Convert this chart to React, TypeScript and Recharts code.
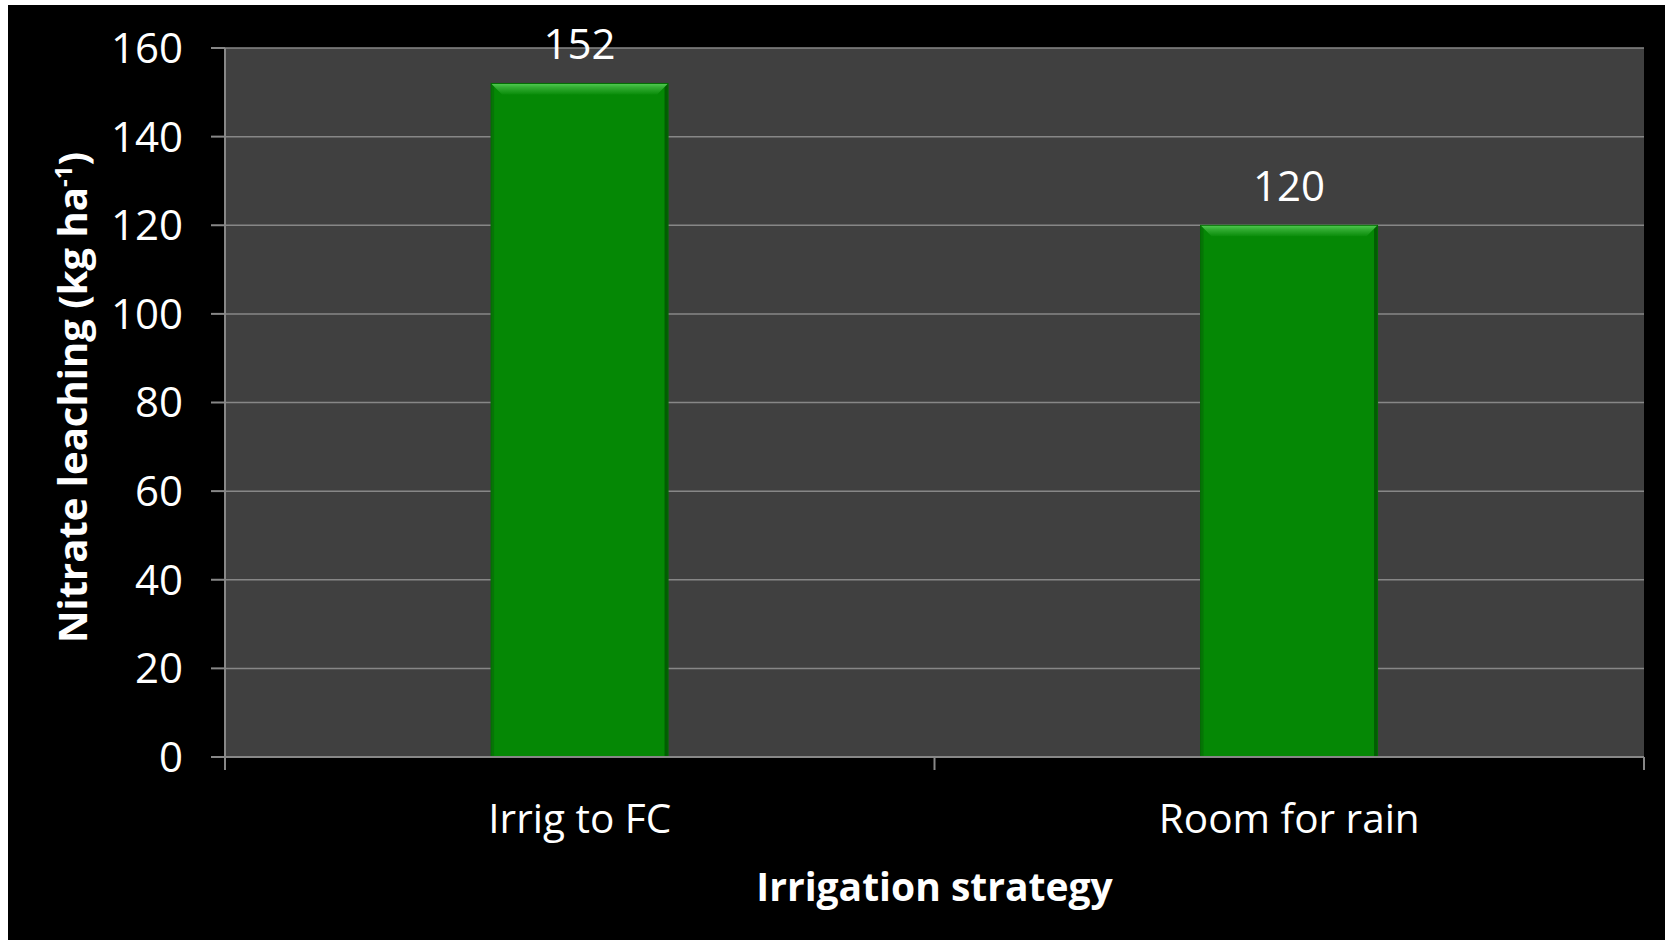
import React from 'react';
import { BarChart, Bar, XAxis, YAxis, CartesianGrid, LabelList, Label } from 'recharts';

// Nitrate leaching under two irrigation strategies
const strategies = ['Irrig to FC', 'Room for rain'];
const nitrateLeaching = [152, 120];
const yTicks = [0, 20, 40, 60, 80, 100, 120, 140, 160];

const data = strategies.map((strategy, i) => ({ strategy, leaching: nitrateLeaching[i] }));

const FONT = '"Open Sans", "DejaVu Sans", sans-serif';
const AXIS_GREY = '#878787';
const CHART_W = 1657;
const CHART_H = 935;

// Green bar with a light bevel along the top and darker edges
function BevelBar(props: any) {
  const { x, y, width, height, index } = props;
  if (!height || height <= 0) return null;
  const b = Math.min(11, height / 2);
  const gid = `bevel-top-${index}`;
  return (
    <g>
      <defs>
        <linearGradient id={gid} x1="0" y1="0" x2="0" y2="1">
          <stop offset="0%" stopColor="#52cc52" />
          <stop offset="35%" stopColor="#34ae34" />
          <stop offset="100%" stopColor="#0a8d0a" />
        </linearGradient>
      </defs>
      <rect x={x} y={y} width={width} height={height} fill="#058805" />
      <rect x={x} y={y} width={3} height={height} fill="#067506" />
      <rect x={x + width - 3.5} y={y} width={3.5} height={height} fill="#025d02" />
      <polygon
        points={`${x},${y} ${x + width},${y} ${x + width - b},${y + b} ${x + b},${y + b}`}
        fill={`url(#${gid})`}
      />
      <rect x={x} y={y} width={width} height={height} fill="none" stroke="#046c04" strokeWidth={1} />
    </g>
  );
}

// Category label plus tick marks on the category boundaries
function CategoryTick(props: any) {
  const { x, y, payload } = props;
  const half = payload && typeof payload.offset === 'number' ? payload.offset : 0;
  const isLast = payload.value === strategies[strategies.length - 1];
  return (
    <g>
      <line x1={x - half} x2={x - half} y1={y} y2={y + 13} stroke={AXIS_GREY} strokeWidth={2} />
      {isLast && (
        <line x1={x + half} x2={x + half} y1={y} y2={y + 13} stroke={AXIS_GREY} strokeWidth={2} />
      )}
      <text x={x} y={y + 76} textAnchor="middle" fill="#ffffff" fontSize={40.5} fontFamily={FONT}>
        {payload.value}
      </text>
    </g>
  );
}

function YTitle(props: any) {
  const vb = props.viewBox || { x: 0, y: 0, width: 0, height: 0 };
  const cx = vb.x + 79;
  const cy = vb.y + vb.height / 2 - 5;
  return (
    <text
      x={cx}
      y={cy}
      transform={`rotate(-90 ${cx} ${cy})`}
      textAnchor="middle"
      fill="#ffffff"
      fontSize={40}
      fontWeight="bold"
      fontFamily={FONT}
    >
      Nitrate leaching (kg ha
      <tspan fontSize={24} dy={-15}>-1</tspan>
      <tspan dy={15}>)</tspan>
    </text>
  );
}

function XTitle(props: any) {
  const vb = props.viewBox || { x: 0, y: 0, width: 0, height: 0 };
  return (
    <text
      x={vb.x + vb.width / 2}
      y={vb.y + 144}
      textAnchor="middle"
      fill="#ffffff"
      fontSize={39}
      fontWeight="bold"
      fontFamily={FONT}
    >
      Irrigation strategy
    </text>
  );
}

export default function App() {
  return (
    <div
      style={{
        position: 'fixed',
        left: 8,
        top: 5,
        width: CHART_W,
        height: CHART_H,
        background: '#000000',
      }}
    >
      <BarChart
        width={CHART_W}
        height={CHART_H}
        data={data}
        margin={{ top: 43, right: 21, left: 0, bottom: 0 }}
        barCategoryGap="37.5%"
      >
        <CartesianGrid vertical={false} fill="#404040" stroke={AXIS_GREY} strokeWidth={1.5} />
        <XAxis
          dataKey="strategy"
          height={183}
          tickLine={false}
          tickSize={0}
          tickMargin={0}
          axisLine={{ stroke: AXIS_GREY, strokeWidth: 2 }}
          tick={<CategoryTick />}
          interval={0}
        >
          <Label content={<XTitle />} />
        </XAxis>
        <YAxis
          width={217}
          domain={[0, 160]}
          ticks={yTicks}
          interval={0}
          tickSize={14}
          tickMargin={28}
          tickLine={{ stroke: AXIS_GREY, strokeWidth: 2 }}
          axisLine={{ stroke: AXIS_GREY, strokeWidth: 2 }}
          tick={{ fill: '#ffffff', fontSize: 42, fontFamily: FONT }}
        >
          <Label content={<YTitle />} />
        </YAxis>
        <Bar dataKey="leaching" shape={<BevelBar />} isAnimationActive={false}>
          <LabelList
            dataKey="leaching"
            position="top"
            offset={24}
            fill="#ffffff"
            fontSize={42}
            fontFamily={FONT}
          />
        </Bar>
      </BarChart>
    </div>
  );
}
